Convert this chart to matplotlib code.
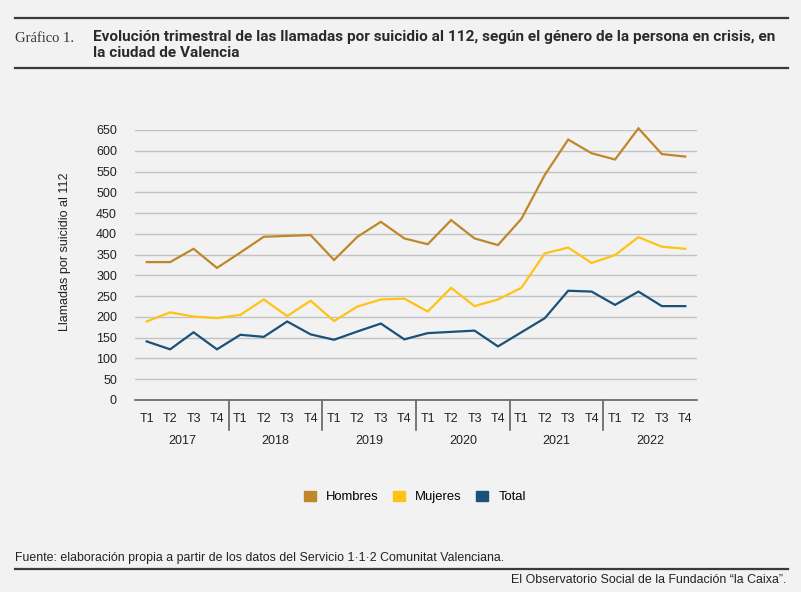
import matplotlib
matplotlib.use("Agg")
import matplotlib.pyplot as plt
from matplotlib.lines import Line2D
from matplotlib.patches import Patch
import matplotlib.transforms as mtransforms

years = ["2017", "2018", "2019", "2020", "2021", "2022"]
quarters = ["T1", "T2", "T3", "T4"]
hombres = [332, 332, 364, 318, 355, 393, 395, 397, 337, 393, 429, 389,
           375, 433, 389, 373, 436, 542, 627, 594, 579, 654, 592, 586]
mujeres = [189, 211, 201, 197, 205, 242, 202, 239, 190, 225, 242, 244,
           213, 270, 226, 242, 270, 353, 367, 330, 349, 392, 369, 364]
total = [141, 122, 163, 122, 157, 152, 189, 158, 145, 165, 184, 146,
         161, 164, 167, 129, 163, 197, 263, 261, 229, 261, 226, 226]
yticks = list(range(0, 651, 50))

C_H = "#C0872A"
C_M = "#FEC314"
C_T = "#1A5178"
BG = "#F2F2F2"
SANS = ["Liberation Sans", "DejaVu Sans"]
TITLE = ["Roboto", "Liberation Sans", "DejaVu Sans"]

W, H = 801, 592
fig = plt.figure(figsize=(W / 100, H / 100), dpi=100, facecolor=BG)
ax = fig.add_axes([135 / W, 1 - 400 / H, (697 - 135) / W, 270 / H])
ax.set_facecolor(BG)

n = len(hombres)
x = list(range(n))
for vals, c in ((hombres, C_H), (mujeres, C_M), (total, C_T)):
    ax.plot(x, vals, color=c, lw=1.6, clip_on=False, zorder=3,
            solid_joinstyle="miter")

ax.set_xlim(-0.5, n - 0.5)
ax.set_ylim(0, 650)
ax.set_yticks(yticks)
ax.set_yticklabels([str(v) for v in yticks], family=SANS, fontsize=9, color="#222222")
ax.yaxis.grid(True, color="#C2C2C2", lw=1)
ax.set_axisbelow(True)
ax.tick_params(axis="y", length=0, pad=13)
for s in ("left", "right", "top"):
    ax.spines[s].set_visible(False)
ax.spines["bottom"].set_color("#6E6E6E")
ax.spines["bottom"].set_linewidth(1.3)

ax.set_xticks(x)
ax.set_xticklabels([quarters[i % 4] for i in x], family=SANS, fontsize=9, color="#222222")
ax.tick_params(axis="x", length=0, pad=9)

trans = mtransforms.blended_transform_factory(ax.transData, ax.transAxes)
for k in range(1, len(years)):
    ax.add_line(Line2D([4 * k - 0.5, 4 * k - 0.5], [0, -30 / 270], transform=trans,
                       color="#555555", lw=1.1, clip_on=False))
for k, yr in enumerate(years):
    ax.text(4 * k + 1.5, -41 / 270, yr, transform=trans, ha="center", va="center",
            family=SANS, fontsize=9, color="#222222")

fig.text(65 / W, 1 - 252 / H, "Llamadas por suicidio al 112", rotation=90,
         ha="center", va="center", family=SANS, fontsize=9, color="#222222")

# Legend
handles = [Patch(facecolor=C_H, edgecolor=C_H, label="Hombres"),
           Patch(facecolor=C_M, edgecolor=C_M, label="Mujeres"),
           Patch(facecolor=C_T, edgecolor=C_T, label="Total")]
fig.legend(handles=handles, loc="center", bbox_to_anchor=(415 / W, 1 - 497 / H),
           ncol=3, frameon=False, handlelength=0.9, handleheight=0.9,
           handletextpad=0.8, columnspacing=1.1, prop={"family": SANS, "size": 9.4})

# Header
fig.add_artist(Line2D([15 / W, 788 / W], [1 - 18 / H, 1 - 18 / H], color="#3A3A3A", lw=1.6))
fig.add_artist(Line2D([15 / W, 788 / W], [1 - 68 / H, 1 - 68 / H], color="#3A3A3A", lw=1.6))
fig.text(15 / W, 1 - 38 / H, "Gráfico 1.", family=["Liberation Serif", "DejaVu Serif"],
         fontsize=10.5, color="#333333", ha="left", va="center")
fig.text(93 / W, 1 - 30 / H,
         "Evolución trimestral de las llamadas por suicidio al 112, según el género de la persona en crisis, en\nla ciudad de Valencia",
         family=TITLE, fontsize=11.1, fontweight="bold", color="#2A2A2A",
         ha="left", va="top", linespacing=1.22)

# Footer
fig.text(15 / W, 1 - 558 / H,
         "Fuente: elaboración propia a partir de los datos del Servicio 1·1·2 Comunitat Valenciana.",
         family=SANS, fontsize=8.9, color="#222222", ha="left", va="center")
fig.add_artist(Line2D([15 / W, 788 / W], [1 - 569 / H, 1 - 569 / H], color="#3A3A3A", lw=1.6))
fig.text(786 / W, 1 - 580 / H, "El Observatorio Social de la Fundación “la Caixa”.",
         family=SANS, fontsize=8.9, color="#222222", ha="right", va="center")

fig.savefig("out.png", dpi=100, facecolor=BG)
